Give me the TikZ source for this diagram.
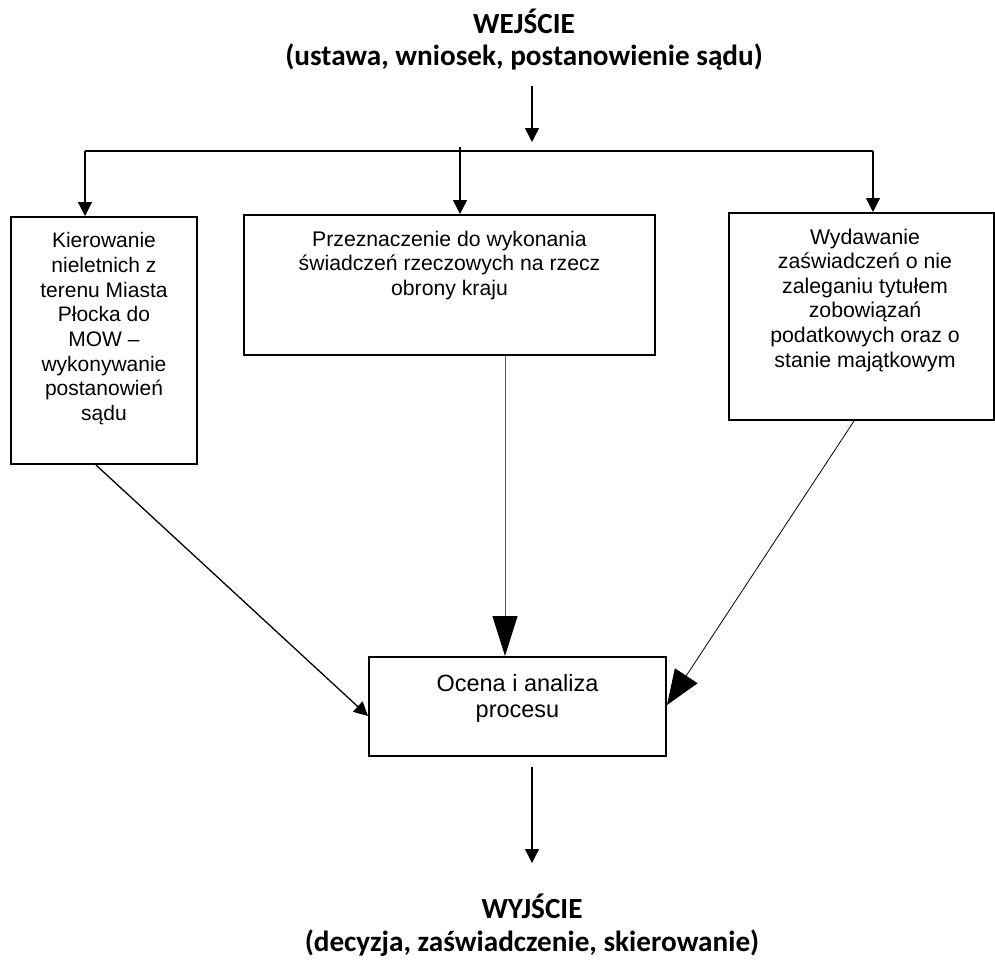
\documentclass[tikz,border=0pt]{standalone}
\usepackage{fontspec}
\setmainfont{Liberation Sans}
\newfontfamily\ttlfont{Carlito}
\usetikzlibrary{arrows.meta,calc}
\begin{document}
\begin{tikzpicture}[x=1pt,y=-1pt,
  box/.style={draw, line width=2pt, inner sep=0pt, anchor=north west},
  ttl/.style={inner sep=0pt, anchor=base, align=center},
  arr/.style={line width=1.3pt, -{Triangle[length=14pt,width=14pt]}},
]
\useasboundingbox (0,0) rectangle (995,959);

% titles (base anchor = baseline of the last line)
\node[ttl, font=\ttlfont\bfseries\fontsize{29.2}{32.4}\selectfont] (in) at (524,65.7)
  {WEJŚCIE\\(ustawa, wniosek, postanowienie sądu)};
\node[ttl, font=\ttlfont\bfseries\fontsize{29.2}{33}\selectfont] (out) at (532,951)
  {WYJŚCIE\\(decyzja, zaświadczenie, skierowanie)};

% boxes
\node[box] (lbox) at (10,216) {\parbox[c][247pt][t]{186pt}{\centering\fontsize{21}{24.7}\selectfont
  \rule{0pt}{30.7pt}Kierowanie\\nieletnich z\\terenu Miasta\\Płocka do\\MOW –\\wykonywanie\\postanowień\\sądu}};
\node[box] (mbox) at (243,214) {\parbox[c][140pt][t]{411pt}{\centering\fontsize{21.2}{24.8}\selectfont
  \rule{0pt}{31pt}Przeznaczenie do wykonania\\świadczeń rzeczowych na rzecz\\obrony kraju}};
\node[box] (rbox) at (728,212) {\parbox[c][207pt][t]{265pt}{\centering\leftskip=7pt plus 1fil\fontsize{21.3}{24.6}\selectfont
  \rule{0pt}{31pt}Wydawanie\\zaświadczeń o nie\\zaleganiu tytułem\\zobowiązań\\podatkowych oraz o\\stanie majątkowym}};
\node[box] (obox) at (368,656) {\parbox[c][99pt][t]{297pt}{\centering\fontsize{23.5}{26}\selectfont
  \rule{0pt}{34.6pt}Ocena i analiza\\procesu}};

% coordinates
\coordinate (topA) at (532,86);
\coordinate (topB) at (532,142);
\coordinate (bL) at (85,151);
\coordinate (bM) at (460,147);
\coordinate (bR) at (873,151);
\coordinate (mx) at (505,0);
\coordinate (l1) at (96,0);
\coordinate (l2) at (0,716);
\coordinate (r1) at (854,0);
\coordinate (r2) at (0,705);
\coordinate (outTip) at (532,863);

% connectors
\draw[arr] (topA) -- (topB);
\draw[line width=2pt] (bL) -- (bR);
\draw[arr] (bL) -- (bL |- lbox.north);
\draw[arr] (bM) -- (bM |- mbox.north);
\draw[arr] (bR) -- (bR |- rbox.north);
\draw[line width=1pt, draw=black!65, -{Triangle[length=40pt,width=25pt,fill=black,color=black]}]
  (mbox.south -| mx) -- (obox.north -| mx);
\draw[arr] (lbox.south -| l1) -- (obox.west |- l2);
\draw[line width=0.8pt, -{Triangle[length=35pt,width=27pt]}] (rbox.south -| r1) -- (obox.east |- r2);
\draw[arr] ($(obox.south -| outTip)+(0,10)$) -- (outTip);
\end{tikzpicture}
\end{document}
